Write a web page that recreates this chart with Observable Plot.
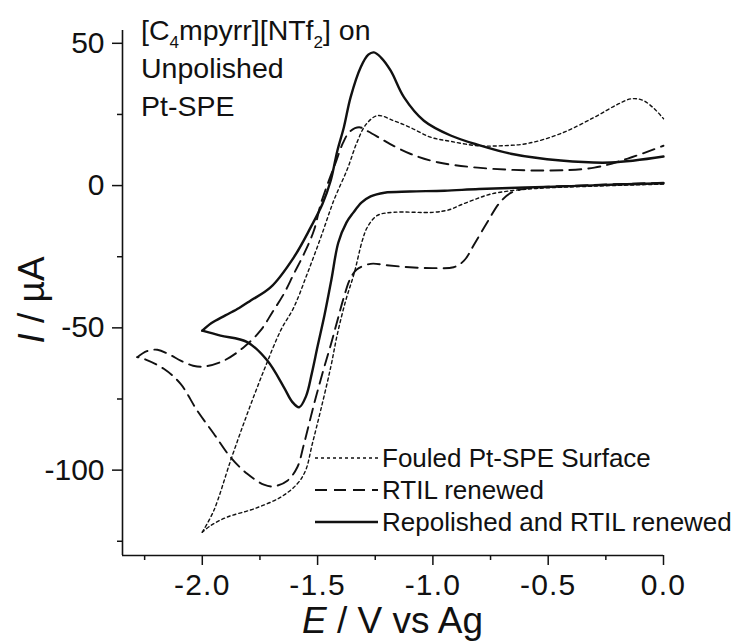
<!DOCTYPE html>
<html><head><meta charset="utf-8">
<script src="https://cdn.jsdelivr.net/npm/d3@7"></script>
<script src="https://cdn.jsdelivr.net/npm/@observablehq/plot@0.6"></script>
<style>body{margin:0;background:#fff} svg{display:block}</style>
</head><body><div id="chart"></div>
<script>
// Series names (legend order)
const seriesNames = ["Fouled Pt-SPE Surface", "RTIL renewed", "Repolished and RTIL renewed"];

// Fouled Pt-SPE Surface: [E (V), I (µA)] – cathodic sweep, then return sweep
const fouledForward = [[0,0.5],[-0.3,-0.2],[-0.55,-1],[-0.66,-1.8],[-0.75,-3],[-0.806,-4.5],[-0.87,-6.5],[-0.93,-8.5],[-1.0,-9.4],[-1.17,-9.4],[-1.241,-10.5],[-1.284,-14.6],[-1.306,-19.3],[-1.342,-31],[-1.378,-40.4],[-1.414,-52.1],[-1.443,-63.8],[-1.487,-79.1],[-1.523,-90.8],[-1.552,-100.1],[-1.588,-104.8],[-1.66,-109.5],[-1.776,-113.6],[-1.892,-116.5],[-1.964,-119.5],[-2.0,-121.8]];
const fouledReverse = [[-2.0,-121.8],[-1.95,-114.2],[-1.877,-96.6],[-1.805,-80.2],[-1.733,-65],[-1.66,-50.9],[-1.603,-42.8],[-1.545,-31],[-1.486,-18.2],[-1.43,-5.3],[-1.37,6],[-1.33,15],[-1.29,21.5],[-1.24,24.6],[-1.17,22.8],[-1.1,20.5],[-1.01,17],[-0.92,15.5],[-0.806,14],[-0.7,14],[-0.59,14.8],[-0.445,18.3],[-0.3,24],[-0.2,28.5],[-0.14,30.5],[-0.09,30],[-0.04,27],[0,23.5]];

// RTIL renewed
const renewedForward = [[0,1.0],[-0.3,0.2],[-0.59,-1],[-0.66,-2.5],[-0.71,-6],[-0.76,-12.3],[-0.82,-20.5],[-0.865,-26.4],[-0.91,-28.7],[-1.0,-29],[-1.1,-28.7],[-1.2,-28],[-1.27,-27.5],[-1.33,-29.5],[-1.36,-33],[-1.386,-39.2],[-1.414,-47.4],[-1.443,-56],[-1.472,-64],[-1.516,-77],[-1.559,-90.8],[-1.588,-99],[-1.631,-103.7],[-1.69,-105.7],[-1.733,-105.1],[-1.805,-101.3],[-1.877,-95.5],[-1.95,-87.2],[-2.022,-79.1],[-2.094,-69.7],[-2.167,-64.4],[-2.253,-60.9],[-2.282,-60.3]];
const renewedReverse = [[-2.282,-60.3],[-2.24,-58.2],[-2.195,-57.7],[-2.14,-59.5],[-2.094,-61.5],[-2.04,-63.3],[-1.993,-63.6],[-1.906,-61.5],[-1.82,-56.8],[-1.747,-50.9],[-1.696,-44.5],[-1.646,-38],[-1.603,-31],[-1.559,-24],[-1.516,-15.8],[-1.486,-6.4],[-1.45,2],[-1.422,8],[-1.39,15],[-1.36,19],[-1.32,20.5],[-1.28,19],[-1.226,16.5],[-1.183,14.5],[-1.096,11.1],[-0.98,8.2],[-0.806,6.3],[-0.52,5.3],[-0.3,6.3],[-0.155,9.5],[0,14]];

// Repolished and RTIL renewed
const repolishedForward = [[0,0.8],[-0.2,0.4],[-0.4,-0.2],[-0.6,-0.7],[-0.8,-1.2],[-0.95,-1.8],[-1.1,-2.1],[-1.21,-2.5],[-1.27,-3.8],[-1.31,-6],[-1.345,-9.5],[-1.375,-13],[-1.41,-20],[-1.44,-33],[-1.47,-45.5],[-1.5,-56.5],[-1.525,-66],[-1.55,-74],[-1.58,-77.9],[-1.61,-76],[-1.646,-70.9],[-1.718,-61.5],[-1.805,-55],[-1.921,-52.7],[-2.0,-51]];
const repolishedReverse = [[-2.0,-51],[-1.96,-48.3],[-1.9,-45.6],[-1.84,-43],[-1.79,-40.4],[-1.703,-35.7],[-1.603,-25.2],[-1.53,-14.7],[-1.479,-6.5],[-1.443,1.8],[-1.414,12.3],[-1.386,20.5],[-1.357,31],[-1.313,41.6],[-1.28,46],[-1.256,46.8],[-1.225,45],[-1.183,40.4],[-1.125,31],[-1.039,22.8],[-0.923,17.6],[-0.8,14.2],[-0.662,11.2],[-0.445,8.8],[-0.228,8.1],[0,10.2]];

// Axis ticks
const xTicks = [-2.0, -1.5, -1.0, -0.5, 0.0];
const xMinorTicks = [-2.25, -1.75, -1.25, -0.75, -0.25];
const yTicks = [-100, -50, 0, 50];
const yMinorTicks = [-125, -75, -25, 25];
const xDomain = [-2.346, 0];
const yDomain = [-130, 54.5];

// Build table
const styles = {
  "Fouled Pt-SPE Surface": {dash: "3,3", width: 1.4},
  "RTIL renewed": {dash: "12,7", width: 1.9},
  "Repolished and RTIL renewed": {dash: null, width: 2.4}
};
const branches = [
  [seriesNames[0], "f", fouledForward], [seriesNames[0], "r", fouledReverse],
  [seriesNames[1], "f", renewedForward], [seriesNames[1], "r", renewedReverse],
  [seriesNames[2], "f", repolishedForward], [seriesNames[2], "r", repolishedReverse]
];
const rows = branches.flatMap(([s, b, pts]) => pts.map(([E, I]) => ({series: s, branch: s + b, E, I})));

const font = "'Liberation Sans', Arial, Helvetica, sans-serif";
const W = 733, H = 641, mL = 122, mR = 70, mT = 30, mB = 86;

const lineMarks = seriesNames.map(s => Plot.line(rows.filter(d => d.series === s), {
  x: "E", y: "I", z: "branch", curve: "catmull-rom",
  stroke: "#111", strokeWidth: styles[s].width,
  strokeDasharray: styles[s].dash || undefined
}));

const plot = Plot.plot({
  width: W, height: H,
  marginLeft: mL, marginRight: mR, marginTop: mT, marginBottom: mB,
  style: {fontFamily: font, background: "#fff", color: "#111", overflow: "visible"},
  x: {domain: xDomain},
  y: {domain: yDomain},
  marks: [
    Plot.axisX(xTicks, {tickSize: 10, tickPadding: 8, fontSize: 30, tickFormat: d => d.toFixed(1), label: null, strokeWidth: 1.5}),
    Plot.axisX(xMinorTicks, {tickSize: 5, text: null, label: null, strokeWidth: 1.5}),
    Plot.axisY(yTicks, {tickSize: 10, tickPadding: 8, fontSize: 30, tickFormat: d => String(d), label: null, strokeWidth: 1.5}),
    Plot.axisY(yMinorTicks, {tickSize: 5, text: null, label: null, strokeWidth: 1.5}),
    Plot.ruleX([xDomain[0]], {stroke: "#111", strokeWidth: 1.6}),
    Plot.ruleY([yDomain[0]], {stroke: "#111", strokeWidth: 1.6}),
    ...lineMarks
  ]
});

const svg = d3.select(plot);
svg.selectAll("g[aria-label='x-axis tick label'] text").attr("letter-spacing", 1.2);

// Axis titles
const xt = svg.append("text").attr("x", (mL + W - mR) / 2).attr("y", 633)
  .attr("text-anchor", "middle").attr("font-size", 37).attr("font-family", font).attr("fill", "#111");
xt.append("tspan").attr("font-style", "italic").text("E");
xt.append("tspan").text(" / V vs Ag");

const yt = svg.append("text").attr("transform", "translate(44,300) rotate(-90)")
  .attr("text-anchor", "middle").attr("font-size", 37).attr("font-family", font).attr("fill", "#111");
yt.append("tspan").attr("font-style", "italic").text("I");
yt.append("tspan").text(" / µA");

// Annotation
const ann = svg.append("g").attr("font-family", font).attr("font-size", 28.5).attr("fill", "#111").attr("text-anchor", "start");
const t1 = ann.append("text").attr("x", 141).attr("y", 40);
t1.append("tspan").text("[C");
t1.append("tspan").attr("font-size", 17).attr("dy", 8).text("4");
t1.append("tspan").attr("dy", -8).text("mpyrr][NTf");
t1.append("tspan").attr("font-size", 17).attr("dy", 8).text("2");
t1.append("tspan").attr("dy", -8).text("] on");
ann.append("text").attr("x", 141).attr("y", 78).text("Unpolished");
ann.append("text").attr("x", 141).attr("y", 116).text("Pt-SPE");

// Legend
const leg = svg.append("g").attr("font-family", font).attr("font-size", 26).attr("fill", "#111").attr("text-anchor", "start");
seriesNames.forEach((s, i) => {
  const y = 458 + i * 32;
  leg.append("line").attr("x1", 315).attr("x2", 378).attr("y1", y).attr("y2", y)
    .attr("stroke", "#111").attr("stroke-width", styles[s].width)
    .attr("stroke-dasharray", styles[s].dash);
  leg.append("text").attr("x", 382).attr("y", y).attr("dy", "0.35em").text(s);
});

document.getElementById("chart").appendChild(plot);
</script>
</body></html>
